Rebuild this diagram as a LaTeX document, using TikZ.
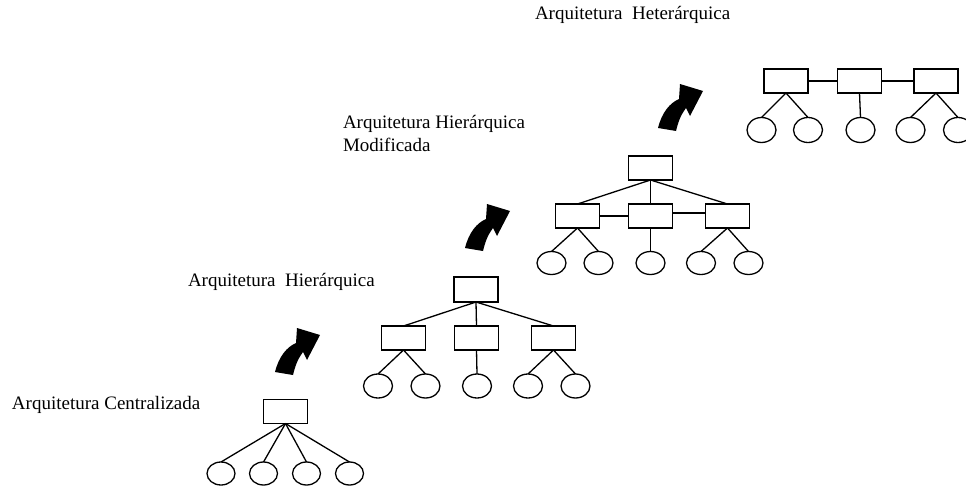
\documentclass[tikz,border=0pt]{standalone}
\usepackage{fontspec}
\setmainfont{Liberation Serif}
\usetikzlibrary{shapes.geometric}
\begin{document}
\begin{tikzpicture}[x=1pt,y=-1pt,
  every node/.style={inner sep=0pt, outer sep=0pt},
  unit/.style={draw, rectangle, line width=1.3pt, minimum width=44pt, minimum height=24pt},
  leaf/.style={draw, ellipse, line width=1.3pt, minimum width=29pt, minimum height=24pt},
  link/.style={line width=1.3pt},
  caption/.style={anchor=base west, font=\fontsize{19}{22}\selectfont, align=left},
  bend arrow/.pic={
    \fill[black] (0,0) .. controls (4,-16) and (12,-25) .. (21,-29)
      -- (22,-44) -- (45,-37) -- (32,-12) -- (28,-20)
      .. controls (22,-12) and (20,-5) .. (18,3) -- cycle;
  }]
\useasboundingbox (0,0) rectangle (966,487);

% captions
\node[caption] (lblC) at (12,409) {Arquitetura Centralizada};
\node[caption] (lblH) at (188,286) {Arquitetura\ \ Hierárquica};
\node[caption] (lblM) at (343,128) {Arquitetura Hierárquica};
\node[caption] (lblM2) at (343,151) {Modificada};
\node[caption] (lblX) at (535,20) {Arquitetura\ \ Heterárquica};

% centralised
\node[unit] (c) at (285.5,411.5) {};
\foreach \i/\x in {1/221,2/263.5,3/306.5,4/349.5}{
  \node[leaf, minimum width=28pt, minimum height=23pt] (c\i) at (\x,473.5) {};
  \draw[link] (c.south) -- (c\i.north);
}

% hierarchical
\node[unit, minimum height=25pt] (h) at (476,289.5) {};
\node[unit] (h1) at (403.5,338) {};
\node[unit] (h2) at (476.5,338) {};
\node[unit] (h3) at (553.5,338) {};
\foreach \i in {1,2,3}{\draw[link] (h.south) -- (h\i.north);}
\node[leaf] (ha) at (378,386) {};
\node[leaf] (hb) at (425.5,386) {};
\node[leaf] (hc) at (477,386) {};
\node[leaf] (hd) at (528,386) {};
\node[leaf] (he) at (575.5,386) {};
\draw[link] (h1.south) -- (ha.north);
\draw[link] (h1.south) -- (hb.north);
\draw[link] (h2.south) -- (hc.north);
\draw[link] (h3.south) -- (hd.north);
\draw[link] (h3.south) -- (he.north);

% modified hierarchical
\node[unit] (m) at (650.5,168) {};
\node[unit] (m1) at (577.5,216) {};
\node[unit] (m2) at (650.5,216) {};
\node[unit] (m3) at (727.5,216) {};
\foreach \i in {1,2,3}{\draw[link] (m.south) -- (m\i.north);}
\draw[link] (m1.east) -- (m2.west);
\draw[link] ([yshift=3pt]m2.east) -- ([yshift=3pt]m3.west);
\node[leaf, minimum height=23pt] (ma) at (551.5,263) {};
\node[leaf, minimum height=23pt] (mb) at (598.5,263) {};
\node[leaf, minimum height=23pt] (mc) at (650.5,263) {};
\node[leaf, minimum height=23pt] (md) at (701,263) {};
\node[leaf, minimum height=23pt] (me) at (748.5,263) {};
\draw[link] (m1.south) -- (ma.north);
\draw[link] (m1.south) -- (mb.north);
\draw[link] (m2.south) -- (mc.north);
\draw[link] (m3.south) -- (md.north);
\draw[link] (m3.south) -- (me.north);

% heterarchical
\node[unit] (x1) at (786,81) {};
\node[unit] (x2) at (859.5,81) {};
\node[unit] (x3) at (936,81) {};
\draw[link] (x1.east) -- (x2.west);
\draw[link] (x2.east) -- (x3.west);
\node[leaf, minimum height=25pt] (xa) at (761.5,130) {};
\node[leaf, minimum height=25pt] (xb) at (808,130) {};
\node[leaf, minimum height=25pt] (xc) at (860.5,130) {};
\node[leaf, minimum height=25pt] (xd) at (910.5,130) {};
\node[leaf, minimum height=25pt] (xe) at (958,130) {};
\draw[link] (x1.south) -- (xa.north);
\draw[link] (x1.south) -- (xb.north);
\draw[link] (x2.south) -- (xc.north);
\draw[link] (x3.south) -- (xd.north);
\draw[link] (x3.south) -- (xe.north);

% curved arrows between stages
\pic at (275,372) {bend arrow};
\pic at (465,248) {bend arrow};
\pic at (658,128) {bend arrow};
\end{tikzpicture}
\end{document}
